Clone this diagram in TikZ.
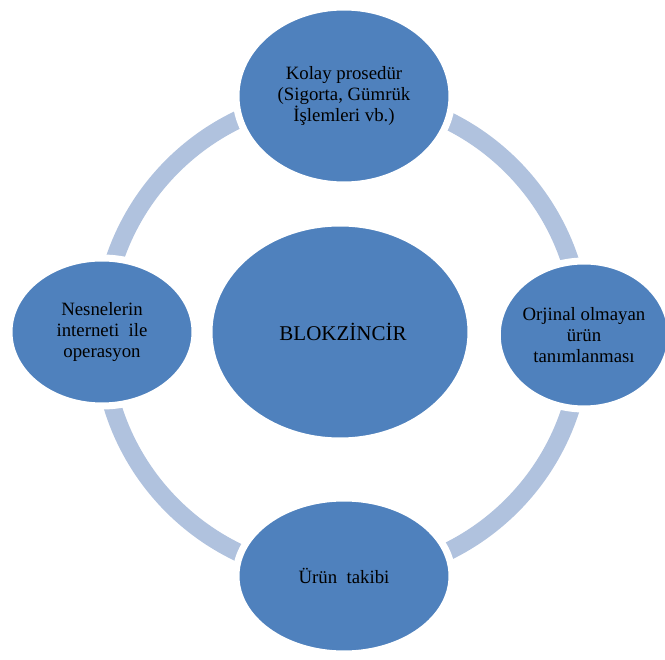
\documentclass[tikz,border=0pt]{standalone}
\usepackage{fontspec}
\setmainfont{Liberation Serif}
\usetikzlibrary{shapes.geometric}
\definecolor{nodeblue}{HTML}{4F81BD}
\definecolor{ringblue}{HTML}{B0C2DE}
\tikzset{
  bubble/.style={ellipse, fill=nodeblue, draw=white, line width=7pt, align=center,
    text=black, font=\fontsize{18.8}{20.8}\selectfont, inner sep=0pt},
  ring/.style={draw=ringblue, line width=18pt}
}
\begin{document}
\begin{tikzpicture}[x=1pt,y=-1pt]
\useasboundingbox (0,0) rectangle (665,660);
\coordinate (c) at (342,336);
\draw[ring] (c) circle (240);
\node[bubble, minimum width=216, minimum height=178] (top) at (344,96)
  {Kolay prosedür\\(Sigorta, Gümrük\\İşlemleri vb.)};
\node[bubble, minimum width=186, minimum height=148] (left) at (102,332)
  {Nesnelerin\\interneti\ \ ile\\operasyon};
\node[bubble, minimum width=172, minimum height=148] (right) at (584,335)
  {Orjinal olmayan\\ürün\\tanımlanması};
\node[bubble, minimum width=216, minimum height=156] (bottom) at (344,576)
  {Ürün\ \ takibi};
\node[bubble, minimum width=262, minimum height=218, font=\fontsize{21}{24}\selectfont] (center) at (340,332)
  {\hspace*{6pt}BLOKZİNCİR};
\end{tikzpicture}
\end{document}
